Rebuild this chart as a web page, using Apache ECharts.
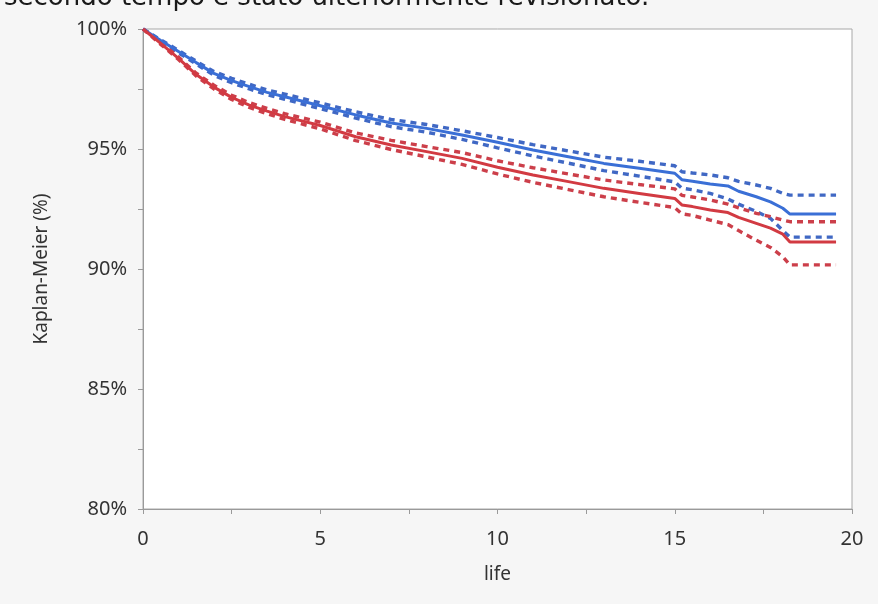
<!DOCTYPE html>
<html>
<head>
<meta charset="utf-8">
<script src="https://cdn.jsdelivr.net/npm/echarts@6/dist/echarts.min.js"></script>
<style>
  html, body { margin: 0; padding: 0; background: #f6f6f6; }
  #chart { width: 878px; height: 604px; }
</style>
</head>
<body>
<div id="chart"></div>
<script>
// Survival times (years of life)
const times = [0, 0.5, 1, 1.5, 2, 2.5, 3, 3.5, 4, 5, 6, 7, 8, 9, 10, 11, 12, 13, 14, 15,
               15.2, 15.5, 16, 16.5, 16.8, 17.3, 17.7, 18.05, 18.25, 19.55];

// Group A (blue): Kaplan-Meier estimate with confidence bounds
const blueKM = [100, 99.52, 99.06, 98.6, 98.15, 97.85, 97.6, 97.36, 97.18, 96.8, 96.42, 96.08, 95.86, 95.58, 95.28,
                94.96, 94.68, 94.4, 94.2, 93.99, 93.72, 93.66, 93.54, 93.46, 93.24, 93.01, 92.8, 92.53, 92.29, 92.29];
const blueUpper = [100, 99.55, 99.11, 98.66, 98.23, 97.94, 97.7, 97.46, 97.29, 96.92, 96.55, 96.23, 96.02, 95.76, 95.48,
                   95.18, 94.92, 94.66, 94.49, 94.3, 94.05, 94.0, 93.92, 93.8, 93.65, 93.5, 93.36, 93.15, 93.08, 93.08];
const blueLower = [100, 99.49, 99.01, 98.54, 98.07, 97.76, 97.5, 97.26, 97.07, 96.68, 96.29, 95.93, 95.7, 95.4, 95.05,
                   94.71, 94.41, 94.1, 93.87, 93.63, 93.37, 93.3, 93.15, 92.92, 92.7, 92.4, 92.11, 91.6, 91.33, 91.33];

// Group B (red): Kaplan-Meier estimate with confidence bounds
const redKM = [100, 99.4, 98.78, 98.1, 97.58, 97.15, 96.83, 96.58, 96.35, 95.98, 95.51, 95.17, 94.89, 94.61, 94.24,
               93.92, 93.64, 93.36, 93.15, 92.94, 92.67, 92.6, 92.46, 92.35, 92.15, 91.9, 91.7, 91.45, 91.125, 91.125];
const redUpper = [100, 99.44, 98.83, 98.16, 97.66, 97.24, 96.93, 96.69, 96.47, 96.12, 95.67, 95.36, 95.1, 94.85, 94.51,
                  94.22, 93.96, 93.71, 93.52, 93.34, 93.07, 93.0, 92.88, 92.7, 92.55, 92.32, 92.18, 92.04, 91.97, 91.97];
const redLower = [100, 99.36, 98.73, 98.04, 97.5, 97.06, 96.73, 96.47, 96.23, 95.84, 95.35, 94.98, 94.67, 94.36, 93.96,
                  93.61, 93.31, 93.01, 92.78, 92.56, 92.3, 92.23, 92.04, 91.85, 91.6, 91.2, 90.9, 90.51, 90.17, 90.17];

const yTicks = [80, 85, 90, 95, 100];
const xTicks = [0, 5, 10, 15, 20];

const BLUE = '#3a6fd6';
const RED = '#d23a42';
const BLUE_DASH = '#4068c4';
const RED_DASH = '#cc3f4a';
const FONT = 'Noto Sans';

const pairs = (ys) => times.map((t, i) => [t, ys[i]]);

function curve(name, ys, color, dashed) {
  return {
    name: name,
    type: 'line',
    data: pairs(ys),
    showSymbol: false,
    silent: true,
    z: dashed ? 2 : 3,
    lineStyle: { color: color, width: dashed ? 3.4 : 3, type: dashed ? [6, 5] : 'solid' }
  };
}

const chart = echarts.init(document.getElementById('chart'));
chart.setOption({
  animation: false,
  backgroundColor: '#f6f6f6',
  textStyle: { fontFamily: FONT },
  graphic: [{
    type: 'text',
    left: 4,
    top: -15,
    style: {
      text: 'secondo tempo è stato ulteriormente revisionato.',
      font: '26px "DejaVu Sans"',
      fill: '#1a1a1a'
    }
  }],
  grid: {
    left: 143, right: 26, top: 29, bottom: 95,
    show: true,
    backgroundColor: '#ffffff',
    borderColor: '#a8a8a8',
    borderWidth: 1
  },
  xAxis: {
    type: 'value',
    min: xTicks[0], max: xTicks[xTicks.length - 1], interval: 5,
    name: 'life',
    nameLocation: 'middle',
    nameGap: 56,
    nameTextStyle: { fontSize: 19, color: '#333', fontFamily: FONT },
    axisLine: { lineStyle: { color: '#9a9a9a', width: 1 } },
    axisTick: { show: true, length: 5, lineStyle: { color: '#9a9a9a' } },
    minorTick: { show: true, splitNumber: 2, length: 5, lineStyle: { color: '#9a9a9a' } },
    axisLabel: { fontSize: 20, color: '#333', margin: 20, fontFamily: FONT },
    splitLine: { show: false }
  },
  yAxis: {
    type: 'value',
    min: yTicks[0], max: yTicks[yTicks.length - 1], interval: 5,
    name: 'Kaplan-Meier (%)',
    nameLocation: 'middle',
    nameGap: 92,
    nameRotate: 90,
    nameTextStyle: { fontSize: 19, color: '#333', fontFamily: FONT },
    axisLine: { show: true, lineStyle: { color: '#9a9a9a', width: 1 } },
    axisTick: { show: true, length: 5, lineStyle: { color: '#9a9a9a' } },
    minorTick: { show: true, splitNumber: 2, length: 5, lineStyle: { color: '#9a9a9a' } },
    axisLabel: { fontSize: 20, color: '#333', margin: 16, formatter: '{value}%', fontFamily: FONT },
    splitLine: { show: false }
  },
  series: [
    curve('A upper', blueUpper, BLUE_DASH, true),
    curve('A lower', blueLower, BLUE_DASH, true),
    curve('B upper', redUpper, RED_DASH, true),
    curve('B lower', redLower, RED_DASH, true),
    curve('A', blueKM, BLUE, false),
    curve('B', redKM, RED, false)
  ]
});
</script>
</body>
</html>
